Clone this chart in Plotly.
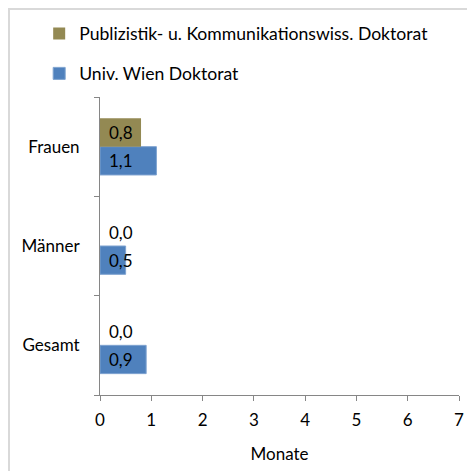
import plotly.graph_objects as go

# Data
categories = ['Gesamt', 'Männer', 'Frauen']
univ_wien = [0.9, 0.5, 1.1]
publizistik = [0.0, 0.0, 0.8]
series_names = ['Univ. Wien Doktorat', 'Publizistik- u. Kommunikationswiss. Doktorat']
x_ticks = [0, 1, 2, 3, 4, 5, 6, 7]

FONT = 'Lato'
FS = 17
BLUE = '#4F81BD'
OLIVE = '#938953'
AXIS = '#868686'

W, H = 467, 471
ML, MR, MT, MB = 100, 8, 97, 76
PW, PH = W - ML - MR, H - MT - MB


def fmt(v):
    return f'{v:.1f}'.replace('.', ',')


fig = go.Figure()

fig.add_trace(go.Bar(
    y=categories, x=univ_wien, orientation='h', name=series_names[0],
    marker=dict(color=BLUE, line=dict(color='#7FA3D0', width=1)),
    legendgroup='b', legendrank=2, hoverinfo='x+y'
))
fig.add_trace(go.Bar(
    y=categories, x=publizistik, orientation='h', name=series_names[1],
    marker=dict(color=OLIVE, line=dict(width=0)),
    legendgroup='a', legendrank=1, hoverinfo='x+y'
))

# Data labels: near the base of each bar, olive above, blue below
for cat, v in zip(categories, univ_wien):
    fig.add_annotation(x=0, y=cat, text=fmt(v), showarrow=False,
                       xanchor='left', xshift=7, yshift=-14,
                       font=dict(family=FONT, size=FS, color='#000000'))
for cat, v in zip(categories, publizistik):
    fig.add_annotation(x=0, y=cat, text=fmt(v), showarrow=False,
                       xanchor='left', xshift=7, yshift=14,
                       font=dict(family=FONT, size=FS, color='#000000'))

# Outer chart border (left and top edges visible, right/bottom cut off)
fig.add_shape(type='rect', xref='paper', yref='paper',
              x0=-(ML - 9) / PW, x1=1.2, y0=-0.4, y1=1 + (MT - 9) / PH,
              line=dict(color='#D9D9D9', width=2), layer='below')

fig.update_layout(
    width=W, height=H,
    margin=dict(l=ML, r=MR, t=MT, b=MB, autoexpand=False),
    paper_bgcolor='white', plot_bgcolor='white',
    barmode='group', bargap=0.43, bargroupgap=0,
    font=dict(family=FONT, size=FS, color='#000000'),
    showlegend=True,
    legend=dict(
        x=-0.1694, y=1.2733, xanchor='left', yanchor='top',
        traceorder='grouped', tracegroupgap=14,
        font=dict(family=FONT, size=17.6, color='#000000'),
        bgcolor='rgba(0,0,0,0)'
    ),
    xaxis=dict(
        range=[0, 7], tickvals=x_ticks, ticktext=[str(t) for t in x_ticks],
        showgrid=False, zeroline=False, automargin=False,
        showline=True, linecolor=AXIS, linewidth=1,
        ticks='outside', ticklen=5, tickcolor=AXIS,
        ticklabelstandoff=5,
        title=dict(text='Monate', standoff=18, font=dict(family=FONT, size=FS)),
        fixedrange=True
    ),
    yaxis=dict(
        showgrid=False, zeroline=False, automargin=False,
        showline=True, linecolor=AXIS, linewidth=1,
        ticks='outside', ticklen=5, tickcolor=AXIS, tickson='boundaries',
        ticklabelstandoff=16,
        fixedrange=True
    ),
)

# drop the default page margin so the figure fills the window exactly
fig.write_html(
    "out.html",
    config={'displayModeBar': False},
    post_script="document.body.style.margin='0';document.body.style.overflow='hidden';"
)
